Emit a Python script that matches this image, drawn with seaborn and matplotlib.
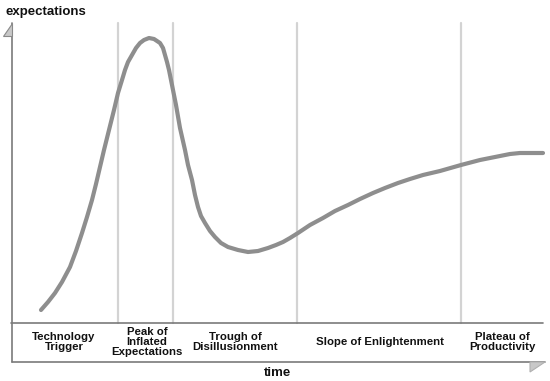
import matplotlib
matplotlib.use("Agg")
import matplotlib.pyplot as plt
from matplotlib.patches import Polygon
import seaborn as sns
import pandas as pd

# Hype-cycle curve (time, expectations)
time = [29, 36, 43, 50, 58, 64, 70, 75, 80, 84,
        88, 92, 97, 102, 106, 110, 113, 116, 120, 124,
        128, 132, 137, 142, 148, 151, 153, 155, 157, 159,
        161, 164, 168, 173, 176, 180, 183, 186, 189, 193,
        198, 203, 209, 216, 226, 236, 246, 256, 264, 271,
        278, 286, 298, 311, 323, 336, 348, 361, 373, 386,
        398, 411, 428, 449, 468, 488, 498, 508, 531]
expectations = [13, 21, 30, 41, 56, 72, 90, 106, 123, 139,
                156, 173, 193, 213, 230, 243, 253, 261, 268, 275,
                280, 283, 285, 284, 280, 275, 268, 261, 253, 243,
                233, 218, 195, 173, 158, 143, 128, 116, 107, 100,
                92, 86, 80, 76, 73, 71, 72, 75, 78, 81,
                85, 90, 98, 105, 112, 118, 124, 130, 135, 140,
                144, 148, 152, 158, 163, 167, 169, 170, 170]

phase_bounds = [106, 161, 285, 449]
phase_labels = ["Technology\nTrigger", "Peak of\nInflated\nExpectations",
                "Trough of\nDisillusionment", "Slope of Enlightenment",
                "Plateau of\nProductivity"]
phase_centers = [52, 135, 223, 368, 490]

sns.set_style("white")
plt.rcParams["font.family"] = ["Liberation Sans", "DejaVu Sans"]

fig = plt.figure(figsize=(5.5, 3.81), dpi=100)
ax = fig.add_axes([0, 0, 1, 1])
ax.set_xlim(-12, 538)
ax.set_ylim(-58, 323)

df = pd.DataFrame({"time": time, "expectations": expectations})

# phase separators
for b in phase_bounds:
    ax.plot([b, b], [0, 300], color="#d3d3d3", lw=1.6, zorder=1)

# axes frame
axis_col = "#7a7a7a"
ax.plot([0, 0], [300, -39], color=axis_col, lw=1.2, zorder=2)
ax.plot([0, 533], [-39, -39], color=axis_col, lw=1.2, zorder=2)
ax.plot([-1, 531], [0, 0], color=axis_col, lw=1.2, zorder=2)

# arrow heads
ax.add_patch(Polygon([[0, 300], [0, 287], [-9, 287]], closed=True,
                     facecolor="#c8c8c8", edgecolor="#8a8a8a", lw=0.8, zorder=3))
ax.add_patch(Polygon([[518, -39], [533, -39], [518, -49]], closed=True,
                     facecolor="#c8c8c8", edgecolor="#b0b0b0", lw=0.8, zorder=3))

sns.lineplot(data=df, x="time", y="expectations", ax=ax, color="#8e8e8e",
             lw=3.0, zorder=4, legend=False, sort=False)
ax.set_xlim(-12, 538)
ax.set_ylim(-58, 323)
ax.axis("off")

for c, lab in zip(phase_centers, phase_labels):
    ax.text(c, -19, lab, ha="center", va="center", fontsize=8.2,
            fontweight="bold", linespacing=1.0, color="#111111")

ax.text(-7, 311, "expectations", ha="left", va="center", fontsize=9.5,
        fontweight="bold", color="#111111")
ax.text(265, -50, "time", ha="center", va="center", fontsize=9.5,
        fontweight="bold", color="#111111")

fig.savefig("out.png", dpi=100)
